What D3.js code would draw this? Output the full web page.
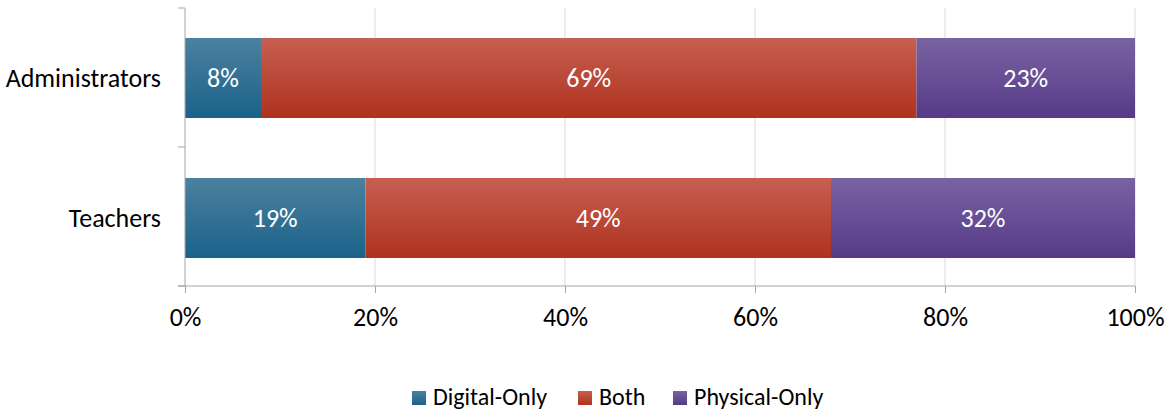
<!DOCTYPE html>
<html>
<head>
<meta charset="utf-8">
<script src="https://cdn.jsdelivr.net/npm/d3@7"></script>
<style>
  body { margin: 0; background: #fff; }
  text { font-family: Carlito, Calibri, "Open Sans", sans-serif; }
</style>
</head>
<body>
<div class="chart"></div>
<script>
var width = 1175;
var height = 412;

// data
const categories = ['Administrators', 'Teachers'];
const seriesNames = ['Digital-Only', 'Both', 'Physical-Only'];
const digitalOnly = [8, 19];
const both = [69, 49];
const physicalOnly = [23, 32];
const xTicks = [0, 20, 40, 60, 80, 100];

const colors = {
  'Digital-Only': ['#4b819f', '#1a6289'],
  'Both': ['#c65f52', '#af321e'],
  'Physical-Only': ['#7963a1', '#563a89']
};

const margin = {top: 8, left: 185, right: 40, bottom: 126};
const plotW = width - margin.left - margin.right;
const plotH = height - margin.top - margin.bottom;
const fs = '26px';

const svg = d3.select('.chart').append('svg')
  .attr('width', width)
  .attr('height', height);

const defs = svg.append('defs');
seriesNames.forEach((s, i) => {
  const g = defs.append('linearGradient')
    .attr('id', 'grad' + i)
    .attr('x1', 0).attr('y1', 0).attr('x2', 0).attr('y2', 1);
  g.append('stop').attr('offset', '0%').attr('stop-color', colors[s][0]);
  g.append('stop').attr('offset', '100%').attr('stop-color', colors[s][1]);
});

const x = d3.scaleLinear().domain([0, 100]).range([0, plotW]);
const y = d3.scaleBand().domain(categories).range([0, 280]).paddingInner(0.4286).paddingOuter(0.2143);

const plot = svg.append('g').attr('transform', `translate(${margin.left},${margin.top})`);

// gridlines
plot.selectAll('.grid')
  .data(xTicks.slice(1))
  .enter().append('line')
  .attr('x1', d => x(d)).attr('x2', d => x(d))
  .attr('y1', 0).attr('y2', plotH)
  .attr('stroke', '#d9d9d9')
  .attr('stroke-width', 1);

// stacked rows
const rows = categories.map((c, i) => ({
  category: c,
  'Digital-Only': digitalOnly[i],
  'Both': both[i],
  'Physical-Only': physicalOnly[i]
}));
const stacked = d3.stack().keys(seriesNames)(rows);

stacked.forEach((layer, si) => {
  const g = plot.append('g');
  g.selectAll('rect')
    .data(layer)
    .enter().append('rect')
    .attr('x', d => x(d[0]))
    .attr('width', d => x(d[1]) - x(d[0]))
    .attr('y', d => y(d.data.category))
    .attr('height', y.bandwidth())
    .attr('fill', 'url(#grad' + si + ')');
  g.selectAll('text')
    .data(layer)
    .enter().append('text')
    .attr('x', d => (x(d[0]) + x(d[1])) / 2)
    .attr('y', d => y(d.data.category) + y.bandwidth() / 2)
    .attr('dy', '0.35em')
    .attr('text-anchor', 'middle')
    .attr('fill', '#fff')
    .style('font-size', fs)
    .text(d => (d[1] - d[0]) + '%');
});

// x axis
const xAxis = plot.append('g')
  .attr('transform', `translate(0,${plotH})`)
  .call(d3.axisBottom(x).tickValues(xTicks).tickFormat(d => d + '%').tickSize(7).tickPadding(15));
xAxis.select('.domain').attr('stroke', '#a6a6a6').attr('d', `M-7,0H${plotW}`);
xAxis.selectAll('.tick line').attr('stroke', '#a6a6a6');
xAxis.selectAll('.tick text').style('font-size', fs).attr('fill', '#000');

// y axis
const yAxis = plot.append('g');
yAxis.append('line')
  .attr('x1', 0).attr('x2', 0).attr('y1', 0).attr('y2', plotH)
  .attr('stroke', '#a6a6a6');
yAxis.selectAll('.ytick')
  .data([0, plotH / 2, plotH])
  .enter().append('line')
  .attr('x1', -7).attr('x2', 0)
  .attr('y1', d => d).attr('y2', d => d)
  .attr('stroke', '#a6a6a6');
yAxis.selectAll('.ylabel')
  .data(categories)
  .enter().append('text')
  .attr('x', -24)
  .attr('y', d => y(d) + y.bandwidth() / 2)
  .attr('dy', '0.35em')
  .attr('text-anchor', 'end')
  .style('font-size', fs)
  .attr('fill', '#000')
  .text(d => d);

// legend
const legendPos = [412, 578, 673];
const legend = svg.append('g').attr('transform', 'translate(0,397)');
seriesNames.forEach((s, i) => {
  legend.append('rect')
    .attr('x', legendPos[i]).attr('y', -6)
    .attr('width', 14).attr('height', 14)
    .attr('fill', 'url(#grad' + i + ')');
  legend.append('text')
    .attr('x', legendPos[i] + 21)
    .attr('y', 0)
    .attr('dy', '0.35em')
    .style('font-size', '24px')
    .attr('fill', '#000')
    .text(s);
});
</script>
</body>
</html>
